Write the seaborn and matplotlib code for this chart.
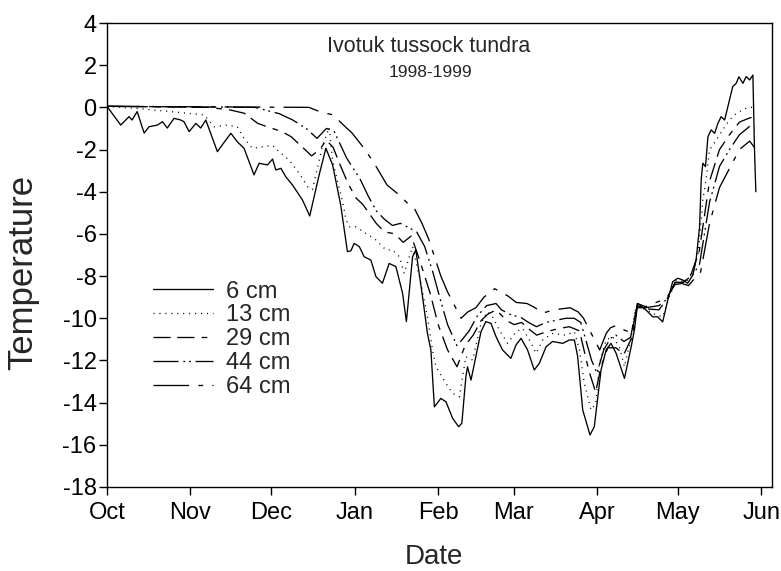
import pandas as pd
import numpy as np
import matplotlib
matplotlib.use("Agg")
import matplotlib.pyplot as plt
import seaborn as sns

# days since 1 Oct 1998, soil temperature (deg C)
days_6 = [0, 5.1, 8.2, 9.3, 11.2, 13.8, 15.6, 18.7, 20.6, 22.4, 24.9, 27.4, 28.6, 30.5, 33.0, 34.8, 36.7,
          41.0, 42.8, 46.0, 48.4, 50.9, 54.6, 56.5, 59.6, 61.5, 62.7, 64.6, 66.4, 68.9, 72.6, 75.3, 78.8,
          81.3, 83.8, 86.8, 89.3, 90.6, 91.8, 93.7, 95.5, 98.0, 99.9, 102.3, 104.8, 107.3, 109.8, 111.2,
          113.5, 114.7, 117.2, 119.0, 120.3, 121.6, 124.0, 125.9, 128.4, 130.6, 131.8, 133.3, 133.9, 135.2,
          137.0, 138.9, 140.7, 142.6, 144.5, 146.9, 150.0, 151.9, 153.8, 156.2, 158.7, 160.6, 163.1, 165.5,
          169.3, 171.7, 173.6, 174.8, 176.7, 179.4, 181.0, 183.5, 185.4, 187.2, 189.1, 192.2, 194.7, 195.9,
          197.1, 199.6, 202.7, 204.5, 206.4, 208.3, 210.1, 212.0, 213.9, 215.7, 217.6, 218.8, 220.1, 220.7,
          221.3, 222.3, 223.2, 224.4, 225.7, 226.9, 228.1, 229.4, 230.6, 232.4, 233.7, 234.7, 236.2, 237.4,
          238.7, 239.9, 240.5, 241.0]
temps_6 = [0.05, -0.84, -0.44, -0.6, -0.2, -1.22, -0.92, -0.84, -0.68, -0.98, -0.52, -0.6, -0.68, -1.15, -0.76, -0.98, -0.6,
           -2.1, -1.78, -1.23, -1.63, -1.94, -3.2, -2.65, -2.73, -2.45, -2.97, -2.89, -3.29, -3.68, -4.39, -5.15, -3.2,
           -1.94, -2.73, -4.63, -6.84, -6.8, -6.45, -6.6, -7.08, -7.24, -8.03, -8.34, -7.4, -7.55, -8.82, -10.16,
           -7.08, -6.76, -8.98, -10.7, -11.5, -14.2, -13.8, -13.96, -14.75, -15.14, -14.98, -12.77, -12.3, -12.93,
           -11.82, -10.64, -10.16, -10.24, -10.87, -11.5, -11.9, -11.27, -10.95, -11.5, -12.45, -12.13, -11.35, -11.1,
           -11.19, -11.03, -11.03, -11.8, -14.35, -15.53, -15.14, -12.45, -11.5, -11.19, -11.66, -12.85, -11.35, -10.55,
           -9.3, -9.53, -9.93, -9.93, -10.17, -9.13, -8.27, -8.1, -8.19, -8.34, -7.95, -7.24, -5.66, -3.44,
           -2.65, -2.81, -1.39, -1.07, -1.23, -0.76, -0.44, -0.6, 0.03, 0.98, 1.14, 1.45, 1.14, 1.46,
           1.3, 1.53, -2.0, -4.0]

days_13 = [0, 11.2, 17.5, 23.7, 29.9, 36.1, 39.8, 44.7, 48.4, 50.9, 54.0, 58.4, 61.5, 63.9, 67.7, 71.4, 74.5,
           76.3, 80.0, 82.5, 83.8, 85.6, 87.5, 88.7, 90.0, 92.4, 96.1, 99.9, 103.6, 106.0, 108.6, 110.4, 113.5,
           116.6, 119.0, 120.9, 122.2, 125.9, 128.4, 130.9, 133.3, 135.8, 138.9, 141.3, 143.2, 145.7, 148.8,
           151.9, 154.4, 156.9, 159.4, 161.8, 165.5, 170.5, 173.6, 175.5, 177.3, 179.8, 181.6, 182.9, 185.4,
           187.8, 190.3, 192.2, 194.7, 196.5, 200.3, 203.9, 206.4, 208.9, 211.4, 215.1, 217.6, 219.4, 220.3,
           221.3, 222.5, 223.8, 226.3, 228.7, 231.2, 233.7, 237.4, 240.5]
temps_13 = [0.05, -0.05, -0.13, -0.2, -0.28, -0.36, -0.92, -0.84, -0.92, -1.47, -1.94, -1.86, -1.8, -2.1, -2.5, -3.13, -3.76,
            -3.9, -1.86, -0.95, -2.5, -3.5, -4.45, -5.3, -5.66, -5.66, -5.97, -6.29, -6.76, -6.76, -7.08, -7.87, -6.6,
            -8.34, -9.93, -11.5, -12.3, -13.09, -13.56, -13.72, -11.82, -11.98, -10.24, -9.69, -9.93, -10.55, -11.19,
            -10.64, -10.48, -11.03, -11.66, -11.03, -10.72, -10.8, -10.64, -11.5, -13.1, -14.35, -14.04, -12.13, -11.03,
            -10.87, -11.35, -12.3, -10.87, -9.45, -9.6, -9.84, -9.93, -8.98, -8.19, -8.27, -7.87, -7.0, -6.0,
            -4.39, -3.44, -2.02, -1.55, -1.07, -0.6, -0.28, -0.04, 0.03]

days_29 = [0, 38, 46, 51, 56, 59.5, 65, 68.5, 76, 79, 81.5, 84, 86.5, 89.5, 92.5, 95, 100, 103, 107, 110, 113,
           116, 120, 123, 126.5, 130, 133, 136, 139, 141.5, 144.6, 148.3, 151.2, 154, 156.6, 159.6, 163, 167.3,
           171.7, 175.5, 179, 181.5, 183.5, 186, 189, 192, 195, 197, 200, 205, 208, 211, 214, 217, 220, 223.8,
           227.5, 231.2, 234.9, 238.7, 240.5]
temps_29 = [0.05, 0.0, -0.13, -0.28, -0.76, -0.92, -1.15, -1.4, -2.3, -2.0, -1.55, -1.9, -2.7, -3.6, -4.3, -4.6, -5.5, -5.9, -6.0, -6.4, -6.1,
            -7.2, -8.8, -10.3, -11.5, -12.3, -11.3, -10.8, -10.1, -9.8, -9.6, -10.1, -10.3, -10.2, -10.5, -10.8, -10.65, -10.5,
            -10.4, -10.6, -12.5, -13.5, -12.3, -11.4, -11.4, -11.7, -10.9, -9.4, -9.55, -9.6, -9.1, -8.3, -8.3, -7.9, -6.8, -3.5,
            -2.0, -1.3, -0.7, -0.5, -0.45]

days_44 = [0, 55, 64, 69, 74, 78, 81.5, 84.4, 89, 94, 97, 100, 103, 106, 109, 112, 115, 118, 121, 124, 126.5,
           130, 132, 134.5, 137.5, 141, 144.5, 146.5, 150.3, 153.6, 156.6, 159.5, 163, 166.7, 170.4, 173.5, 176,
           180, 182, 184.5, 187, 189, 192, 194.5, 196.5, 200, 205, 208, 211, 214, 217, 220, 223.8, 227.5, 231.2,
           234.9, 238.7, 240.5]
temps_44 = [0.05, 0.0, -0.3, -0.6, -1.0, -1.47, -1.0, -1.15, -2.4, -3.4, -4.2, -4.9, -5.3, -5.6, -5.5, -5.7, -5.9, -6.6, -7.8, -9.2, -10.3,
            -11.3, -11.0, -10.6, -9.9, -9.4, -9.3, -9.6, -9.85, -9.95, -10.2, -10.4, -10.2, -10.1, -10.0, -10.0, -10.2,
            -12.0, -12.6, -11.5, -10.95, -10.8, -11.1, -10.9, -9.5, -9.5, -9.4, -9.1, -8.3, -8.3, -8.0, -7.5, -4.5, -2.8, -2.0,
            -1.3, -0.9, -1.0]

days_64 = [0, 75, 79, 84, 88.5, 90.9, 95, 99, 104, 109, 112, 114, 117, 119.5, 124, 126.5, 131.5, 134, 137, 140,
           144, 149, 152, 156, 159, 162, 166, 172, 175, 177, 181, 183, 185.5, 187, 189, 192, 195, 197, 200, 205,
           208, 211, 213.5, 216, 219, 220.5, 223.8, 227.5, 231.2, 234.9, 238.7, 240.5]
temps_64 = [0.05, 0.0, -0.2, -0.36, -0.92, -1.2, -1.86, -2.6, -3.68, -4.2, -4.6, -4.75, -5.5, -6.25, -8.0, -8.75, -10.0, -9.7, -9.5, -9.0,
            -8.6, -8.95, -9.25, -9.3, -9.5, -9.75, -9.6, -9.5, -9.7, -10.0, -11.0, -11.5, -10.7, -10.45, -10.35, -10.55, -10.7, -9.3, -9.45, -9.2,
            -9.0, -8.4, -8.35, -8.45, -8.0, -7.8, -5.5, -3.8, -2.9, -2.0, -1.6, -1.9]

depths = ['6 cm', '13 cm', '29 cm', '44 cm', '64 cm']
series = [(days_6, temps_6), (days_13, temps_13), (days_29, temps_29),
          (days_44, temps_44), (days_64, temps_64)]
month_labels = ['Oct', 'Nov', 'Dec', 'Jan', 'Feb', 'Mar', 'Apr', 'May', 'Jun']
yticks = list(range(-18, 5, 2))

start = pd.Timestamp('1998-10-01')
frames = []
for name, (d, t) in zip(depths, series):
    assert len(d) == len(t), name
    frames.append(pd.DataFrame({'date': start + pd.to_timedelta(d, unit='D'),
                                'temp': t, 'depth': name}))
df = pd.concat(frames, ignore_index=True)

sns.set_style('ticks')
plt.rcParams['font.family'] = ['Liberation Sans', 'DejaVu Sans']
plt.rcParams['axes.unicode_minus'] = False

dash_map = {'6 cm': '',
            '13 cm': (0.8, 3.7),
            '29 cm': (13, 5, 13, 5.5, 4.3, 5.5),
            '44 cm': (19, 3.6, 1.4, 2.9, 1.4, 3.6),
            '64 cm': (27, 7, 3.6, 7)}

fig = plt.figure(figsize=(7.81, 5.71), dpi=100)
ax = fig.add_axes([107 / 781, 1 - 487 / 571, 665 / 781, 464 / 571])

sns.lineplot(data=df, x='date', y='temp', style='depth', style_order=depths,
             dashes=dash_map, color='black', linewidth=0.95, estimator=None,
             ax=ax)

leg = ax.get_legend()
handles = list(leg.legend_handles)
labels = [t.get_text() for t in leg.get_texts()]
leg.remove()
ax.legend(handles, labels, loc='upper left', bbox_to_anchor=(0.069, 0.445),
          frameon=False, fontsize=17, handlelength=2.55, handletextpad=0.55,
          labelspacing=0.08, borderpad=0, borderaxespad=0)

ax.set_ylim(-18, 4)
ax.set_yticks(yticks)
ax.set_xlim(start, pd.Timestamp('1999-06-05'))
ax.set_xticks(pd.date_range('1998-10-01', '1999-06-01', freq='MS'))
ax.set_xticklabels(month_labels)

for s in ax.spines.values():
    s.set_linewidth(1.0)
    s.set_color('black')
ax.tick_params(direction='out', length=6, width=1.0, labelsize=17, colors='black')
ax.tick_params(axis='y', pad=1.5)
# month names share one baseline
ax.tick_params(axis='x', pad=17)
for lab in ax.get_xticklabels():
    lab.set_verticalalignment('baseline')

ax.set_xlabel('')
ax.set_ylabel('Temperature', fontsize=25)
ax.yaxis.set_label_coords(-0.102, 0.463)
fig.text(434 / 781, 1 - 557 / 571, 'Date', ha='center', va='center', fontsize=20)

ax.text(0.484, 0.95, 'Ivotuk tussock tundra', transform=ax.transAxes,
        ha='center', va='center', fontsize=15.5)
ax.text(0.487, 0.893, '1998-1999', transform=ax.transAxes,
        ha='center', va='center', fontsize=12.5)

fig.savefig('out.png', dpi=100)
